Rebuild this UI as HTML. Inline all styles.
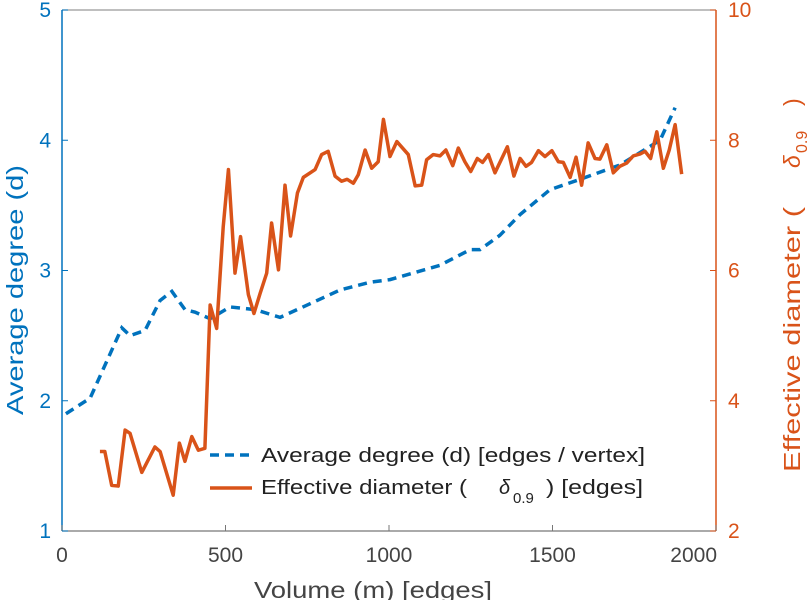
<!DOCTYPE html>
<html><head><meta charset="utf-8"><style>
body{margin:0;background:#fff;}
svg{display:block;font-family:"Liberation Sans",sans-serif;}
</style></head><body>
<svg id="chart" width="812" height="600" viewBox="0 0 812 600" xmlns="http://www.w3.org/2000/svg">
<g id="axes"></g>
<g id="series"></g>
<g>
  <line x1="210" y1="455" x2="252" y2="455" stroke="#0072BD" stroke-width="3.5" stroke-dasharray="9,6"/>
  <text x="261" y="462" font-size="20" textLength="384" lengthAdjust="spacingAndGlyphs" fill="#222">Average degree (d) [edges / vertex]</text>
  <line x1="210" y1="488" x2="252" y2="488" stroke="#D95319" stroke-width="3.5"/>
  <text x="261" y="494" font-size="20" textLength="206" lengthAdjust="spacingAndGlyphs" fill="#222">Effective diameter (</text>
  <text x="499" y="494" font-size="20" font-style="italic" fill="#222">δ</text>
  <text x="513" y="503" font-size="15" fill="#222">0.9</text>
  <text x="546" y="494" font-size="20" textLength="97" lengthAdjust="spacingAndGlyphs" fill="#222">) [edges]</text>
</g>
<text x="254" y="598" font-size="23" textLength="238" lengthAdjust="spacingAndGlyphs" fill="#444">Volume (m) [edges]</text>
<text transform="translate(23,415) rotate(-90)" font-size="23" textLength="250" lengthAdjust="spacingAndGlyphs" fill="#0072BD">Average degree (d)</text>
<g fill="#D95319" font-size="23">
  <text transform="translate(800,472) rotate(-90)" textLength="265" lengthAdjust="spacingAndGlyphs">Effective diameter (</text>
  <text transform="translate(800,168) rotate(-90)" font-style="italic">δ</text>
  <text transform="translate(807,153) rotate(-90)" font-size="16">0.9</text>
  <text transform="translate(800,106) rotate(-90)">)</text>
</g>
</svg>
<script>
const xTicks=[0,500,1000,1500,2000];
const leftTicks=[1,2,3,4,5];
const rightTicks=[2,4,6,8,10];
const degreeM=[12,86,183,208,254,300,336,376,407,453,514,590,667,728,850,942,1003,1156,1248,1278,1339,1401,1492,1584,1706,1829,1875];
const degreeD=[1.90,2.02,2.56,2.50,2.54,2.77,2.84,2.70,2.68,2.63,2.72,2.70,2.64,2.71,2.85,2.91,2.93,3.04,3.16,3.16,3.27,3.43,3.62,3.70,3.81,4.00,4.25];
const diamM=[116,131,152,172,193,208,244,284,300,340,359,376,397,417,437,453,473,493,509,529,546,570,587,606,626,641,662,682,699,720,738,774,794,814,835,855,872,891,906,927,947,967,983,1003,1024,1059,1080,1100,1115,1135,1156,1174,1195,1212,1232,1250,1270,1286,1304,1324,1362,1382,1401,1419,1436,1457,1477,1498,1518,1533,1554,1572,1589,1609,1630,1645,1666,1686,1706,1727,1747,1768,1783,1800,1819,1839,1857,1875,1895];
const diamV=[3.22,3.22,2.70,2.69,3.55,3.50,2.90,3.29,3.22,2.55,3.35,3.07,3.45,3.24,3.27,5.47,5.11,6.67,7.55,5.96,6.52,5.63,5.34,5.65,5.96,6.73,6.01,7.31,6.53,7.19,7.43,7.55,7.78,7.83,7.45,7.37,7.40,7.34,7.47,7.85,7.57,7.67,8.32,7.75,7.98,7.78,7.30,7.31,7.70,7.78,7.76,7.85,7.61,7.88,7.67,7.52,7.72,7.66,7.78,7.50,7.90,7.45,7.72,7.60,7.66,7.84,7.75,7.84,7.67,7.66,7.43,7.74,7.31,7.96,7.72,7.71,7.93,7.50,7.60,7.65,7.76,7.79,7.83,7.72,8.13,7.57,7.85,8.24,7.48];

const L=62,R=716,T=10,B=531;
const xs=v=>L+(v-0)/2000*(R-L);
const yl=v=>B-(v-1)/4*(B-T);
const yr=v=>B-(v-2)/8*(B-T);
const NS="http://www.w3.org/2000/svg";
function mk(tag,attrs,parent){const e=document.createElementNS(NS,tag);for(const k in attrs)e.setAttribute(k,attrs[k]);parent.appendChild(e);return e;}
const ax=document.getElementById('axes'), se=document.getElementById('series');
let e;
e=mk('line',{x1:L,y1:T,x2:R,y2:T,stroke:'#999','stroke-width':1.2},ax);


e=mk('line',{x1:L,y1:B,x2:R,y2:B,stroke:'#777','stroke-width':1.2},ax);


e=mk('line',{x1:L,y1:T,x2:L,y2:B,stroke:'#0072BD','stroke-width':1.5},ax);


e=mk('line',{x1:R,y1:T,x2:R,y2:B,stroke:'#D95319','stroke-width':1.5},ax);


xTicks.forEach((v,i)=>{
  const t=mk('line',{x1:xs(v),y1:B,x2:xs(v),y2:B-6,stroke:'#777'},ax);
  
  
  const last=i===xTicks.length-1;
  const l=mk('text',{x:last?xs(v)+1:xs(v),y:B+31,'text-anchor':last?'end':'middle','font-size':21,fill:'#444'},ax);l.textContent=v;
  
  
});
leftTicks.forEach(v=>{
  const t=mk('line',{x1:L,y1:yl(v),x2:L+6,y2:yl(v),stroke:'#0072BD'},ax);
  
  
  const l=mk('text',{x:L-11,y:yl(v)+7,'text-anchor':'end','font-size':21,fill:'#0072BD'},ax);l.textContent=v;
  
  
});
rightTicks.forEach(v=>{
  const t=mk('line',{x1:R,y1:yr(v),x2:R-6,y2:yr(v),stroke:'#D95319'},ax);
  
  
  const l=mk('text',{x:R+12,y:yr(v)+7,'text-anchor':'start','font-size':21,fill:'#D95319'},ax);l.textContent=v;
  
  
});
e=mk('polyline',{points:degreeM.map((m,i)=>xs(m)+','+yl(degreeD[i])).join(' '),fill:'none',stroke:'#0072BD','stroke-width':3.5,'stroke-dasharray':'9,6'},se);


e=mk('polyline',{points:diamM.map((m,i)=>xs(m)+','+yr(diamV[i])).join(' '),fill:'none',stroke:'#D95319','stroke-width':3.5,'stroke-linejoin':'round'},se);


</script>
</body></html>
